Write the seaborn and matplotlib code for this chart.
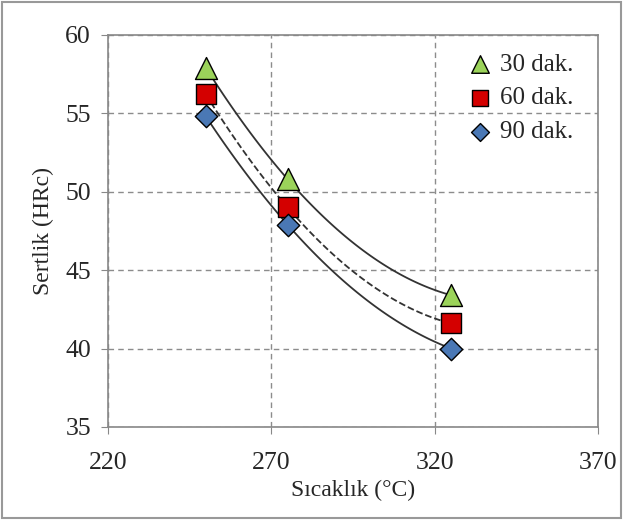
import numpy as np
import pandas as pd
import matplotlib
matplotlib.use('Agg')
import matplotlib.pyplot as plt
import seaborn as sns
from matplotlib.patches import Rectangle

sns.set_style('white')
plt.rcParams['font.family'] = ['Liberation Serif', 'DejaVu Serif']

# veriler
sicaklik = [250, 275, 325]
sure_30 = [57.9, 50.8, 43.4]
sure_60 = [56.2, 49.0, 41.6]
sure_90 = [54.8, 47.9, 40.0]
etiketler = ['30 dak.', '60 dak.', '90 dak.']

df = pd.DataFrame({
    'T': sicaklik * 3,
    'HRc': sure_30 + sure_60 + sure_90,
    'grup': [etiketler[0]] * 3 + [etiketler[1]] * 3 + [etiketler[2]] * 3,
})

renkler = {'30 dak.': '#9bd35a', '60 dak.': '#d40000', '90 dak.': '#4a78b5'}
isaretler = {'30 dak.': '^', '60 dak.': 's', '90 dak.': 'D'}
boyut = {'30 dak.': 250, '60 dak.': 200, '90 dak.': 130}
cizgi = {'30 dak.': '-', '60 dak.': '--', '90 dak.': '-'}

fig = plt.figure(figsize=(6.23, 5.2), dpi=100)
ax = fig.add_axes([0.173, 0.179, 0.787, 0.754])

# polinom trend cizgileri (2. derece)
for g in etiketler:
    d = df[df.grup == g]
    p = np.polyfit(d['T'], d['HRc'], 2)
    xs = np.linspace(d['T'].min(), d['T'].max(), 100)
    ax.plot(xs, np.polyval(p, xs), color='#333333', lw=1.3, ls=cizgi[g], zorder=2)

for g in etiketler:
    d = df[df.grup == g]
    sns.scatterplot(data=d, x='T', y='HRc', marker=isaretler[g], s=boyut[g],
                    color=renkler[g], edgecolor='black', linewidth=1.0,
                    label=g, ax=ax, zorder=3)

ax.set_xlim(220, 370)
ax.set_ylim(35, 60)
ax.set_xticks([220, 270, 320, 370])
ax.set_yticks([35, 40, 45, 50, 55, 60])
ax.grid(True, ls=(0, (4, 3)), color='#8c8c8c', lw=1.0)
for s in ax.spines.values():
    s.set_color('#888888')
    s.set_linewidth(1.2)
ax.tick_params(axis='both', labelsize=18.5, length=5, color='#888888', direction='out',
               bottom=True, left=True)
ax.tick_params(axis='x', pad=13)
ax.tick_params(axis='y', pad=7)
ax.set_xlabel('Sıcaklık (°C)', fontsize=17, labelpad=4)
ax.set_ylabel('Sertlik (HRc)', fontsize=17, labelpad=8)

leg = ax.legend(loc='upper right', bbox_to_anchor=(0.975, 0.985), frameon=False,
                fontsize=18, handletextpad=-0.2, borderaxespad=0.1,
                labelspacing=0.45, markerscale=0.8)

fig.patches.append(Rectangle((0.003, 0.004), 0.994, 0.992, transform=fig.transFigure,
                             fill=False, edgecolor='#999999', lw=1.5))

plt.savefig('out.png', dpi=100)
